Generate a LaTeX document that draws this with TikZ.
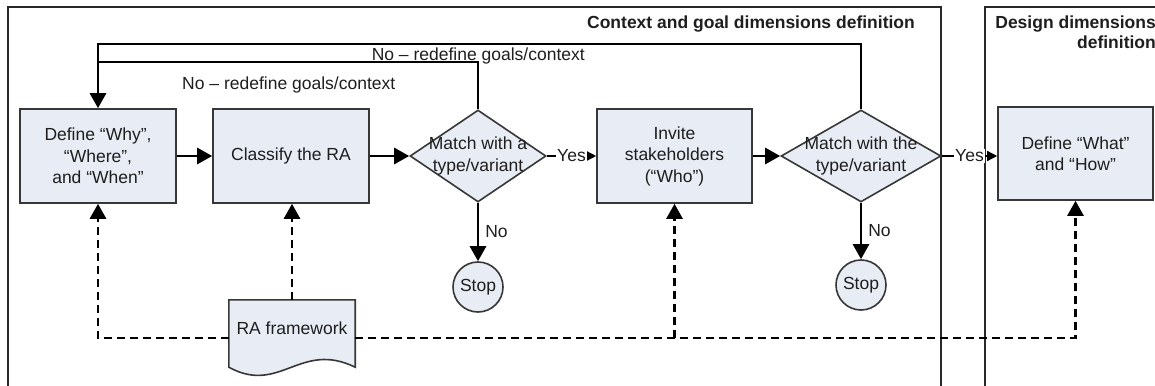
\documentclass[tikz,border=0pt]{standalone}
\usepackage{fontspec}
\setmainfont{Liberation Sans}
\usetikzlibrary{arrows.meta,shapes.geometric,calc}
\pgfdeclarelayer{back}
\pgfsetlayers{back,main}
\definecolor{boxfill}{RGB}{232,236,244}
\definecolor{boxline}{RGB}{55,55,55}
\definecolor{ink}{RGB}{30,30,30}
\definecolor{framecol}{RGB}{40,40,40}
\begin{document}
\begin{tikzpicture}[x=1pt,y=-1pt,
  txt/.style={font=\fontsize{17.5pt}{21.5pt}\selectfont, text=ink},
  titletxt/.style={font=\fontsize{17.5pt}{20pt}\selectfont\bfseries, text=ink, inner sep=0pt},
  stepbox/.style={txt, rectangle, draw=boxline, line width=1.6pt, fill=boxfill,
    minimum width=156pt, minimum height=94pt, align=center, inner sep=0pt},
  decision/.style={diamond, draw=boxline, line width=1.6pt, fill=boxfill, inner sep=0pt},
  dtext/.style={txt, align=center, inner sep=0pt},
  stopnode/.style={txt, circle, draw=boxline, line width=1.6pt, fill=boxfill,
    minimum size=50pt, inner sep=0pt},
  frame/.style={draw=framecol, line width=1.5pt},
  flow/.style={line width=2.7pt, -{Triangle[length=15pt,width=16pt]}},
  link/.style={line width=2.7pt},
  yesflow/.style={line width=1.5pt, -{Triangle[length=10pt,width=10pt]}},
  dashflow/.style={line width=2.7pt, dash pattern=on 8pt off 5pt,
    -{Triangle[length=15pt,width=16pt]}},
  yeslab/.style={txt, fill=white, inner sep=1pt},
  nolab/.style={txt, anchor=west, inner sep=0pt, xshift=6pt},
]
\useasboundingbox (0,0) rectangle (1155,385);

% swimlane frames
\draw[frame] (8,395) -- (8,7) -- (941,7) -- (941,395);
\draw[frame] (985,395) -- (985,7) -- (1165,7);

\node[titletxt, anchor=base east] (title1) at (915,28.5)
  {Context and goal dimensions definition};
\node[titletxt, anchor=north east, align=right] (title2) at (1156,15.5)
  {Design dimensions\\definition};

% process steps
\node[stepbox] (b1) at (98,156) {Define “Why”,\\“Where”,\\and “When”};
\node[stepbox] (b2) at (291,156) {Classify the RA};
\node[decision, minimum width=136pt, minimum height=92pt] (d1) at (478,156) {};
\node[dtext] (d1t) at (d1) {Match with a\\type/variant};
\node[stepbox, minimum width=155pt] (b3) at (674.5,156) {Invite\\stakeholders\\(“Who”)};
\node[decision, minimum width=160pt, minimum height=92pt] (d2) at (861,156) {};
\node[dtext] (d2t) at (d2) {Match with the\\type/variant};
\node[stepbox, minimum width=155pt, minimum height=93pt] (b4) at (1075.5,153.5) {Define “What”\\and “How”};
\node[stopnode] (s1) at (478,287) {Stop};
\node[stopnode] (s2) at (861,285) {Stop};

% document shape
\node[txt, minimum width=126pt, minimum height=56pt, inner sep=0pt] (doc) at (292,328) {RA framework};
\begin{pgfonlayer}{back}
\draw[draw=boxline, line width=1.6pt, fill=boxfill]
  (doc.north west) -- (doc.north east) -- ([yshift=-11pt]doc.south east)
  .. controls ($(doc.south east)+(-55,-16)$) and ($(doc.south west)+(51,39)$) ..
  ([yshift=-11pt]doc.south west) -- cycle;
\end{pgfonlayer}

% main flow
\draw[flow] (b1) -- (b2);
\draw[flow] (b2) -- (d1);
\draw[yesflow] (d1) -- node[yeslab] (y1) {Yes} (b3);
\draw[flow] (b3) -- (d2);
\draw[yesflow] (d2.east) -- node[yeslab] (y2) {Yes} (d2.east -| b4.west);
\draw[flow] (d1) -- node[nolab] (n1) {No} (s1);
\draw[flow] (d2) -- node[nolab] (n2) {No} (s2);

% feedback loops
\draw[flow] (d2.north) |- (b1.north |- 0,44) -- (b1.north);
\draw[link] (d1.north) |- (b1.north |- 0,62);
\node[txt, anchor=base east, inner sep=0pt] (lbl2) at (585,61) {No – redefine goals/context};
\node[txt, anchor=base west, inner sep=0pt] (lbl1) at (182,89.5) {No – redefine goals/context};

% framework inputs
\coordinate (tap) at ([yshift=-10pt]doc.east -| b3.south);
\draw[dashflow] ([yshift=-10pt]doc.west) -| (b1.south);
\draw[dashflow] (doc.north) -- (doc.north |- b2.south);
\draw[dashflow] ([yshift=-10pt]doc.east) -| (b4.south);
\draw[dashflow] (tap) -- (b3.south);
\end{tikzpicture}
\end{document}
